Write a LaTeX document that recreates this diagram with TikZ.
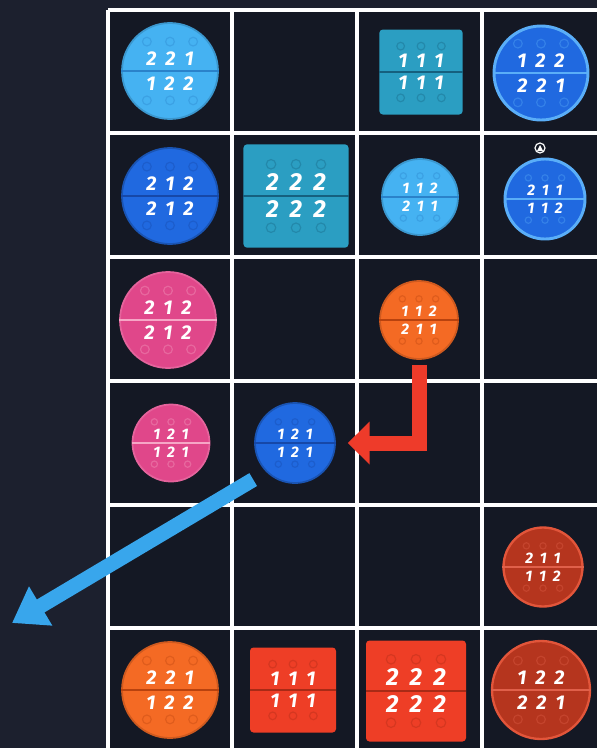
\documentclass[tikz,border=0pt]{standalone}
\usepackage{fontspec}
\newfontfamily\digfont{Fira Sans}
\usetikzlibrary{arrows.meta, positioning}
\definecolor{bgc}{HTML}{1C202E}
\definecolor{cellbg}{HTML}{141824}
\definecolor{skyb}{HTML}{45B2F2}
\definecolor{skyline}{HTML}{2A82CA}
\definecolor{bluet}{HTML}{2069E0}
\definecolor{bluering}{HTML}{5AAEF8}
\definecolor{blueline}{HTML}{1648A8}
\definecolor{tealt}{HTML}{2B9EC2}
\definecolor{tealline}{HTML}{15607E}
\definecolor{pinkt}{HTML}{E0478A}
\definecolor{pinkline}{HTML}{F6A6C6}
\definecolor{orngt}{HTML}{F46A24}
\definecolor{orngline}{HTML}{B8420E}
\definecolor{redt}{HTML}{EE3E26}
\definecolor{redline}{HTML}{A82A16}
\definecolor{darkr}{HTML}{B5351E}
\definecolor{darkrring}{HTML}{E2553A}
\definecolor{darkrline}{HTML}{E0604A}
\definecolor{arrred}{HTML}{EE3B2A}
\definecolor{arrblue}{HTML}{38A6EC}
\tikzstyle{tokc} = [circle, inner sep=0pt, line width=1.5pt]
\tikzstyle{toks} = [rectangle, rounded corners=3pt, inner sep=0pt]
\tikzstyle{grid} = [white, line width=3.5pt]
\newcommand{\tri}[3]{#1\hspace{0.45em}#2\hspace{0.45em}#3}
% face of a token: node, digit style, offset (px), top, bottom, divider colour
\newcommand{\tokface}[6]{%
  \draw[#6, line width=2.5pt] (#1.west) -- (#1.east);
  \node (#1-top) [#2] at ([shift={(0,-#3)}]#1.center) {\tri#4};
  \node (#1-bot) [#2] at ([shift={(0,#3)}]#1.center) {\tri#5};
  \foreach \dx in {-1,0,1}{
    \draw[#6, opacity=.35, line width=1pt] ([shift={(1.85*#3*\dx,-2.35*#3)}]#1.center) circle[radius={0.0105cm*#3}];
    \draw[#6, opacity=.35, line width=1pt] ([shift={(1.85*#3*\dx,2.35*#3)}]#1.center) circle[radius={0.0105cm*#3}];
  }
}

\begin{document}
\begin{tikzpicture}[
        x=0.03cm, y=-0.03cm,
        dig/.style={text=white, inner sep=0pt, font=\digfont\bfseries\itshape\fontsize{#1}{#1}\selectfont},
        redarr/.style={-{Triangle[length=0.65cm,width=1.25cm]}, draw=arrred, line width=0.45cm, shorten <=0.15cm, shorten >=0.36cm},
        bluearr/.style={-{Triangle[length=1cm,width=1.3cm]}, draw=arrblue, line width=0.45cm, shorten <=0.45cm},
    ]
    % background and board
    \useasboundingbox (0,0) rectangle (597,748);
    \fill[bgc] (0,0) rectangle (597,748);
    \fill[cellbg] (108,10) rectangle (600,750);
    \foreach \x in {108,232,357,482} \draw[grid] (\x,10) -- (\x,750);
    \foreach \y in {10,133,257,381,505,628} \draw[grid] (108,\y) -- (600,\y);

    % row 1
    \node (t11) [tokc, fill=skyb, draw=skyb!85!black, minimum size=2.88cm] at (170,71) {};
    \tokface{t11}{dig=17}{12.5}{221}{122}{skyline}
    \node (t13) [toks, fill=tealt, minimum width=2.5cm, minimum height=2.55cm] at (421,72) {};
    \tokface{t13}{dig=17}{11}{111}{111}{tealline}
    \node (t14) [tokc, fill=bluet, draw=bluering, line width=2.5pt, minimum size=2.82cm] at (541,73) {};
    \tokface{t14}{dig=17}{12.5}{122}{221}{bluering}

    % row 2
    \node (t21) [tokc, fill=bluet, draw=bluet!80!black, minimum size=2.88cm] at (170,196) {};
    \tokface{t21}{dig=17}{12.5}{212}{212}{blueline}
    \node (t22) [toks, fill=tealt, minimum width=3.15cm, minimum height=3.1cm] at (296,196) {};
    \tokface{t22}{dig=21}{13.5}{222}{222}{tealline}
    \node (t23) [tokc, fill=skyb, draw=skyb!85!black, minimum size=2.28cm] at (420,197) {};
    \tokface{t23}{dig=13}{9}{112}{211}{skyline}
    \node (t24) [tokc, fill=bluet, draw=bluering, line width=2.5pt, minimum size=2.4cm] at (545,199) {};
    \tokface{t24}{dig=13}{9}{211}{112}{bluering}
    \node (mark) [circle, draw=white, line width=1pt, minimum size=0.3cm, inner sep=0pt] at (540,148) {};
    \fill[white] (537,151) -- (543,151) -- (540,145) -- cycle;

    % row 3
    \node (t31) [tokc, fill=pinkt, draw=pinkt!85!white, minimum size=2.88cm] at (168,320) {};
    \tokface{t31}{dig=17}{12.5}{212}{212}{pinkline}
    \node (t33) [tokc, fill=orngt, draw=orngt!85!black, minimum size=2.34cm] at (419,320) {};
    \tokface{t33}{dig=13}{9}{112}{211}{orngline}

    % row 4
    \node (t41) [tokc, fill=pinkt, draw=pinkt!85!white, minimum size=2.31cm] at (171,443) {};
    \tokface{t41}{dig=13}{9}{121}{121}{pinkline}
    \node (t42) [tokc, fill=bluet, draw=bluet!80!black, minimum size=2.4cm] at (295,443) {};
    \tokface{t42}{dig=13}{9}{121}{121}{blueline}

    % row 5
    \node (t54) [tokc, fill=darkr, draw=darkrring, line width=2pt, minimum size=2.37cm] at (543,567) {};
    \tokface{t54}{dig=13}{9}{211}{112}{darkrline}

    % row 6
    \node (t61) [tokc, fill=orngt, draw=orngt!85!black, minimum size=2.88cm] at (170,690) {};
    \tokface{t61}{dig=17}{12.5}{221}{122}{orngline}
    \node (t62) [toks, fill=redt, minimum width=2.58cm, minimum height=2.55cm] at (293,690) {};
    \tokface{t62}{dig=17}{11}{111}{111}{redline}
    \node (t63) [toks, fill=redt, minimum width=3.0cm, minimum height=3.03cm] at (416,691) {};
    \tokface{t63}{dig=21}{13.5}{222}{222}{redline}
    \node (t64) [tokc, fill=darkr, draw=darkrring, line width=2pt, minimum size=2.94cm] at (541,690) {};
    \tokface{t64}{dig=17}{12.5}{122}{221}{darkrline}

    % moves
    \draw[redarr] (t33.south) |- (t42.east);
    \coordinate (bluetip) at (12,623);
    \draw[bluearr] (t42.south west) -- (bluetip);
\end{tikzpicture}
\end{document}
